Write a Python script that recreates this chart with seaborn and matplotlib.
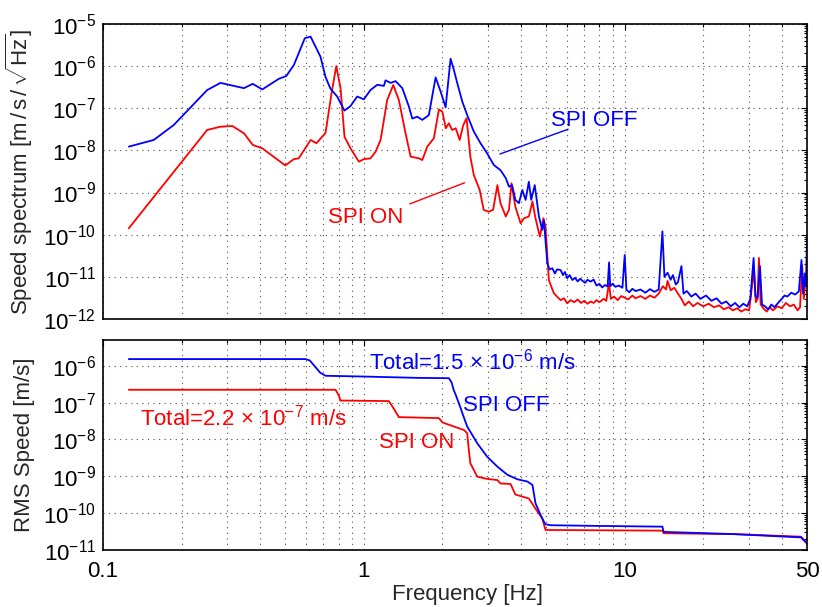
import numpy as np
import pandas as pd
import matplotlib
matplotlib.use("Agg")
import matplotlib.pyplot as plt
import matplotlib.ticker as mticker
import seaborn as sns

# ---------------- data ----------------
off_freq = [0.1256, 0.1565, 0.1867, 0.2507, 0.282, 0.347, 0.375, 0.408, 0.472, 0.504,
            0.539, 0.594, 0.625, 0.682, 0.713, 0.745, 0.79, 0.843, 0.889, 0.943, 1.0,
            1.06, 1.125, 1.193, 1.211, 1.266, 1.323, 1.404, 1.488, 1.533, 1.602, 1.675,
            1.775, 1.884, 1.969, 2.058, 2.15, 2.214, 2.282, 2.385, 2.49, 2.64, 2.80,
            2.97, 3.15, 3.34, 3.50, 3.60, 3.70, 3.81, 3.93, 4.05, 4.17, 4.29, 4.38,
            4.52, 4.69, 4.83, 4.90,
            5.05, 5.15, 5.28, 5.4, 5.5, 5.68, 5.8, 5.9, 6.02, 6.15, 6.3, 6.45, 6.6,
            6.75, 6.9, 7.05, 7.2, 7.4, 7.6, 7.8, 8.0, 8.2, 8.4, 8.6, 8.71, 8.8, 9.0,
            9.2, 9.5, 9.8, 10.0, 10.15, 10.4, 10.7, 11.0, 11.5, 12.0, 12.5, 13.0, 13.5,
            13.95, 14.2, 14.6, 15.0, 15.3, 15.7, 16.0, 16.5, 16.8, 17.3, 18.0, 18.7,
            19.5, 20.5, 21.5, 22.5, 23.5, 24.5, 25.5, 26.5, 27.5, 28.5, 29.5, 30.3,
            31.2, 31.7, 32.3, 33.0, 33.6, 34.5, 35.5, 36.5, 37.5, 38.7, 40.0, 41.0,
            42.0, 43.5, 45.0, 46.5, 47.6, 48.3, 49.0, 49.5, 50.0]
off_spec = [1.23e-8, 1.77e-8, 4.0e-8, 2.7e-7, 4.0e-7, 3.0e-7, 3.8e-7, 2.8e-7, 5.0e-7, 5.8e-7,
            1.06e-6, 4.6e-6, 5.0e-6, 1.67e-6, 5.5e-7, 2.9e-7, 1.9e-7, 8.8e-8, 1.13e-7, 1.9e-7, 1.63e-7,
            2.7e-7, 3.6e-7, 3.4e-7, 4.6e-7, 4.0e-7, 4.4e-7, 3.0e-7, 1.1e-7, 5.7e-8, 6.3e-8, 5.3e-8,
            6.9e-8, 5.4e-7, 2.5e-7, 1.05e-7, 1.5e-6, 8.1e-7, 3.9e-7, 1.43e-7, 6.9e-8, 2.8e-8, 1.48e-8,
            8.5e-9, 4.5e-9, 3.4e-9, 2.2e-9, 1.38e-9, 1.5e-9, 6.7e-10, 5.6e-10, 1.15e-9, 6.7e-10, 1.8e-9, 6.7e-10,
            1.5e-9, 2.7e-10, 1.3e-10, 2.2e-10,
            2.1e-11, 1.5e-11, 1.6e-11, 1.2e-11, 1.5e-11, 1.45e-11, 1.1e-11, 1.3e-11, 9.3e-12, 1.1e-11, 8.4e-12, 9.5e-12, 7.8e-12,
            9.0e-12, 8.0e-12, 7.2e-12, 8.5e-12, 7.7e-12, 8.6e-12, 6.2e-12, 6.8e-12, 5.6e-12, 6.4e-12, 5.9e-12, 2.2e-11, 6.0e-12, 6.9e-12,
            5.8e-12, 6.2e-12, 5.5e-12, 3.3e-11, 5.0e-12, 4.3e-12, 5.2e-12, 4.6e-12, 5.0e-12, 4.2e-12, 5.1e-12, 4.4e-12, 5.0e-12,
            1.2e-10, 1.0e-11, 1.25e-11, 8.5e-12, 1.1e-11, 6.6e-12, 7.5e-12, 1.8e-11, 4.0e-12, 4.6e-12, 3.4e-12, 4.0e-12,
            3.0e-12, 3.6e-12, 2.7e-12, 3.1e-12, 2.3e-12, 2.6e-12, 2.0e-12, 2.4e-12, 1.9e-12, 2.3e-12, 2.0e-12, 3.0e-12,
            2.8e-11, 3.5e-12, 3.2e-12, 1.8e-11, 2.2e-12, 2.0e-12, 1.7e-12, 2.2e-12, 1.9e-12, 2.4e-12, 3.0e-12, 3.6e-12,
            3.4e-12, 4.2e-12, 3.8e-12, 4.5e-12, 2.5e-11, 4.0e-12, 1.2e-11, 6.0e-12, 8.0e-11]

on_freq = [0.1256, 0.2507, 0.282, 0.313, 0.347, 0.375, 0.408, 0.5, 0.539, 0.563, 0.625,
           0.658, 0.713, 0.752, 0.784, 0.814, 0.843, 0.889, 0.957, 1.0, 1.061, 1.109, 1.159,
           1.229, 1.296, 1.362, 1.445, 1.511, 1.626, 1.675, 1.75, 1.855, 1.94, 2.0, 2.06,
           2.118, 2.18, 2.25, 2.33, 2.405, 2.476, 2.56, 2.64, 2.78, 2.88, 3.01, 3.13, 3.25,
           3.34, 3.50, 3.60, 3.68, 3.81, 3.99, 4.11, 4.29, 4.43, 4.55, 4.73, 4.88, 4.97,
           5.12, 5.25, 5.35, 5.5, 5.68, 5.85, 6.02, 6.2, 6.4, 6.6, 6.8, 7.0, 7.2, 7.4, 7.6,
           7.8, 8.0, 8.3, 8.5, 8.7, 8.85, 9.1, 9.4, 9.7, 10.0, 10.3, 10.7, 11.0, 11.5, 12.0,
           12.5, 13.0, 13.5, 14.0, 14.4, 14.6, 15.0, 15.5, 16.0, 16.5, 17.0, 17.6, 18.3, 19.0,
           20.0, 21.0, 22.0, 23.0, 24.0, 25.0, 26.0, 27.0, 28.0, 29.0, 30.0, 31.3, 31.8, 32.3,
           32.7, 33.2, 34.0, 35.0, 36.0, 37.0, 38.5, 40.0, 41.5, 43.0, 44.5, 46.0, 47.0, 47.9,
           48.6, 49.3, 50.0]
on_spec = [1.42e-10, 3.05e-8, 3.65e-8, 3.8e-8, 2.55e-8, 1.35e-8, 1.12e-8, 4.4e-9, 6.2e-9, 6.5e-9, 1.77e-8,
           1.48e-8, 2.6e-8, 2.3e-7, 1.0e-6, 3.0e-7, 2.1e-8, 1.12e-8, 5.4e-9, 6.2e-9, 6.5e-9, 9.3e-9, 1.77e-8,
           1.57e-7, 3.56e-7, 1.57e-7, 2.55e-8, 7.1e-9, 6.5e-9, 5.9e-9, 1.23e-8, 1.94e-8, 9.4e-8, 8.3e-8, 3.35e-8,
           4.4e-8, 3.05e-8, 3.35e-8, 1.77e-8, 4.0e-8, 5.8e-8, 7.1e-9, 2.6e-9, 1.15e-9, 3.9e-10, 3.5e-10, 3.9e-10, 1.5e-9,
           5.6e-10, 2.7e-10, 3.9e-10, 1.66e-9, 4.6e-10, 1.86e-10, 2.45e-10, 2.7e-10, 6.1e-10, 2.45e-10, 9.0e-11, 2.45e-10, 1.55e-10,
           8.4e-12, 5.5e-12, 4.1e-12, 3.4e-12, 2.8e-12, 3.1e-12, 2.35e-12, 2.8e-12, 2.5e-12, 2.9e-12, 2.4e-12, 2.7e-12, 2.3e-12, 2.6e-12, 2.4e-12,
           2.8e-12, 2.5e-12, 3.0e-12, 2.7e-12, 7.0e-12, 3.0e-12, 3.4e-12, 2.8e-12, 3.5e-12, 3.2e-12, 2.9e-12, 3.6e-12, 3.1e-12, 3.5e-12, 3.0e-12,
           3.6e-12, 3.2e-12, 4.0e-12, 6.0e-12, 5.0e-12, 8.0e-12, 4.8e-12, 5.5e-12, 4.0e-12, 3.0e-12, 2.1e-12, 2.6e-12, 2.0e-12, 2.4e-12,
           2.0e-12, 2.3e-12, 1.9e-12, 2.1e-12, 1.7e-12, 1.9e-12, 1.6e-12, 1.8e-12, 1.5e-12, 1.7e-12, 1.6e-12, 1.5e-11, 2.5e-12, 3.0e-12,
           2.8e-11, 2.2e-12, 1.8e-12, 1.5e-12, 1.9e-12, 1.6e-12, 2.0e-12, 1.8e-12, 2.4e-12, 2.0e-12, 2.2e-12, 1.6e-12, 1.9e-12, 1.9e-11,
           3.0e-12, 8.0e-12, 5.9e-12]

rms_off_freq = [0.1256, 0.597, 0.62, 0.65, 0.68, 0.713, 1.0, 1.6, 2.12, 2.17, 2.21, 2.25, 2.35,
                2.385, 2.49, 2.72, 2.97, 3.25, 3.55, 3.88, 4.24, 4.43, 4.55, 4.76, 4.9, 4.97,
                5.2, 8.0, 13.95, 14.1, 26.2, 47.4, 50.0]
rms_off = [1.52e-6, 1.52e-6, 1.4e-6, 9.5e-7, 6.5e-7, 5.35e-7, 5.1e-7, 4.7e-7, 4.6e-7, 3.5e-7, 2.2e-7, 1.63e-7, 7.1e-8,
           5.2e-8, 2.24e-8, 7.9e-9, 3.4e-9, 1.83e-9, 1.1e-9, 8.3e-10, 7.2e-10, 5.8e-10, 1.86e-10, 8.9e-11, 5.9e-11, 5.0e-11,
           4.7e-11, 4.5e-11, 4.3e-11, 3.1e-11, 2.7e-11, 2.2e-11, 1.5e-11]

rms_on_freq = [0.1256, 0.779, 0.80, 0.814, 1.247, 1.30, 1.362, 1.94, 2.0, 2.42, 2.49, 2.52, 2.56,
               2.72, 2.97, 3.25, 3.34, 3.65, 3.81, 4.29, 4.63, 4.83, 4.97, 13.95, 14.1, 26.2, 47.4, 50.0]
rms_on = [2.23e-7, 2.23e-7, 1.6e-7, 1.14e-7, 1.1e-7, 7.0e-8, 4.04e-8, 3.8e-8, 2.9e-8, 1.8e-8, 1.48e-8, 6.0e-9, 2.27e-9,
          9.8e-10, 8.5e-10, 7.9e-10, 6.4e-10, 6.2e-10, 3.2e-10, 2.5e-10, 1.1e-10, 7.2e-11, 3.5e-11, 3.35e-11, 2.85e-11, 2.7e-11, 2.3e-11, 1.5e-11]

x_ticks = [0.1, 1, 10, 50]
x_tick_labels = ["0.1", "1", "10", "50"]

# ---------------- style ----------------
sns.set_theme(style="white")
plt.rcParams["font.family"] = ["Liberation Sans", "DejaVu Sans"]
plt.rcParams["mathtext.fontset"] = "custom"
plt.rcParams["mathtext.rm"] = "Liberation Sans"
plt.rcParams["mathtext.it"] = "Liberation Sans:italic"
plt.rcParams["mathtext.bf"] = "Liberation Sans:bold"
plt.rcParams["mathtext.sf"] = "Liberation Sans"
plt.rcParams["axes.unicode_minus"] = True

BLUE = "#0000ff"
RED = "#ff0000"
FS = 16


def sci_label(val, pos):
    if val <= 0:
        return ""
    e = int(round(np.log10(val)))
    return r"$\mathregular{10^{%d}}$" % e


fig = plt.figure(figsize=(8.22, 6.07), dpi=100)
ax1 = fig.add_axes([0.1253, 0.4745, 0.8565, 0.486])
ax2 = fig.add_axes([0.1253, 0.0939, 0.8565, 0.346])

df_off = pd.DataFrame({"f": off_freq, "v": off_spec})
df_on = pd.DataFrame({"f": on_freq, "v": on_spec})
df_roff = pd.DataFrame({"f": rms_off_freq, "v": rms_off})
df_ron = pd.DataFrame({"f": rms_on_freq, "v": rms_on})

sns.lineplot(data=df_on, x="f", y="v", ax=ax1, color=RED, lw=1.3, estimator=None, sort=False)
sns.lineplot(data=df_off, x="f", y="v", ax=ax1, color=BLUE, lw=1.3, estimator=None, sort=False)
sns.lineplot(data=df_ron, x="f", y="v", ax=ax2, color=RED, lw=1.3, estimator=None, sort=False)
sns.lineplot(data=df_roff, x="f", y="v", ax=ax2, color=BLUE, lw=1.3, estimator=None, sort=False)

for ax, ylim in ((ax1, (1e-12, 1e-5)), (ax2, (1e-11, 10 ** (-5.3)))):
    ax.set_xscale("log")
    ax.set_yscale("log")
    ax.set_xlim(0.1, 50)
    ax.set_ylim(*ylim)
    ax.xaxis.set_major_locator(mticker.FixedLocator(x_ticks))
    ax.xaxis.set_minor_locator(mticker.LogLocator(base=10, subs=np.arange(2, 10), numticks=20))
    ax.yaxis.set_major_locator(mticker.LogLocator(base=10, numticks=20))
    ax.yaxis.set_major_formatter(mticker.FuncFormatter(sci_label))
    ax.yaxis.set_minor_locator(mticker.LogLocator(base=10, subs=np.arange(2, 10), numticks=20))
    ax.yaxis.set_minor_formatter(mticker.NullFormatter())
    ax.xaxis.set_minor_formatter(mticker.NullFormatter())
    ax.tick_params(which="both", direction="in", top=True, right=True, labelsize=FS,
                   colors="black", width=0.8)
    ax.tick_params(which="major", length=4, pad=5)
    ax.tick_params(which="minor", length=2)
    ax.grid(True, which="major", axis="both", color="0.3", linestyle=(0, (1, 4)), linewidth=0.8)
    ax.grid(True, which="minor", axis="x", color="0.3", linestyle=(0, (1, 4)), linewidth=0.8)
    for s in ax.spines.values():
        s.set_color("black")
        s.set_linewidth(1.2)
    ax.set_xlabel("")
    ax.set_ylabel("")

ax1.set_xticklabels([])
ax2.set_xticklabels(x_tick_labels)
ax2.tick_params(axis="x", which="major", pad=8)

ax1.set_ylabel(r"Speed spectrum [m$\,$/$\,$s$\,$/$\,\sqrt{\mathrm{Hz}}$]", fontsize=FS)
ax2.set_ylabel("RMS Speed [m/s]", fontsize=FS)
ax1.yaxis.set_label_coords(-0.097, 0.5)
ax2.yaxis.set_label_coords(-0.097, 0.5)
ax2.set_xlabel("Frequency [Hz]", fontsize=FS)
ax2.xaxis.set_label_coords(0.518, -0.16)

# annotations, top
ax1.text(5.2, 3.8e-8, "SPI OFF", color=BLUE, fontsize=FS, ha="left", va="baseline")
ax1.annotate("", xy=(3.25, 7.8e-9), xytext=(6.21, 3.35e-8),
             arrowprops=dict(arrowstyle="-", color=BLUE, lw=1.0))
ax1.text(0.726, 1.93e-10, "SPI ON", color=RED, fontsize=FS, ha="left", va="baseline")
ax1.annotate("", xy=(2.49, 1.8e-9), xytext=(1.467, 5.1e-10),
             arrowprops=dict(arrowstyle="-", color=RED, lw=1.0))

# annotations, bottom
ax2.text(1.042, 7.8e-7, r"Total=1.5$\,\times\,$10$^{-6}$ m/s", color=BLUE, fontsize=FS,
         ha="left", va="baseline")
ax2.text(2.39, 6.0e-8, "SPI OFF", color=BLUE, fontsize=FS, ha="left", va="baseline")
ax2.text(0.139, 2.39e-8, r"Total=2.2$\,\times\,$10$^{-7}$ m/s", color=RED, fontsize=FS,
         ha="left", va="baseline")
ax2.text(1.139, 5.8e-9, "SPI ON", color=RED, fontsize=FS, ha="left", va="baseline")

fig.savefig("out.png", dpi=100)
